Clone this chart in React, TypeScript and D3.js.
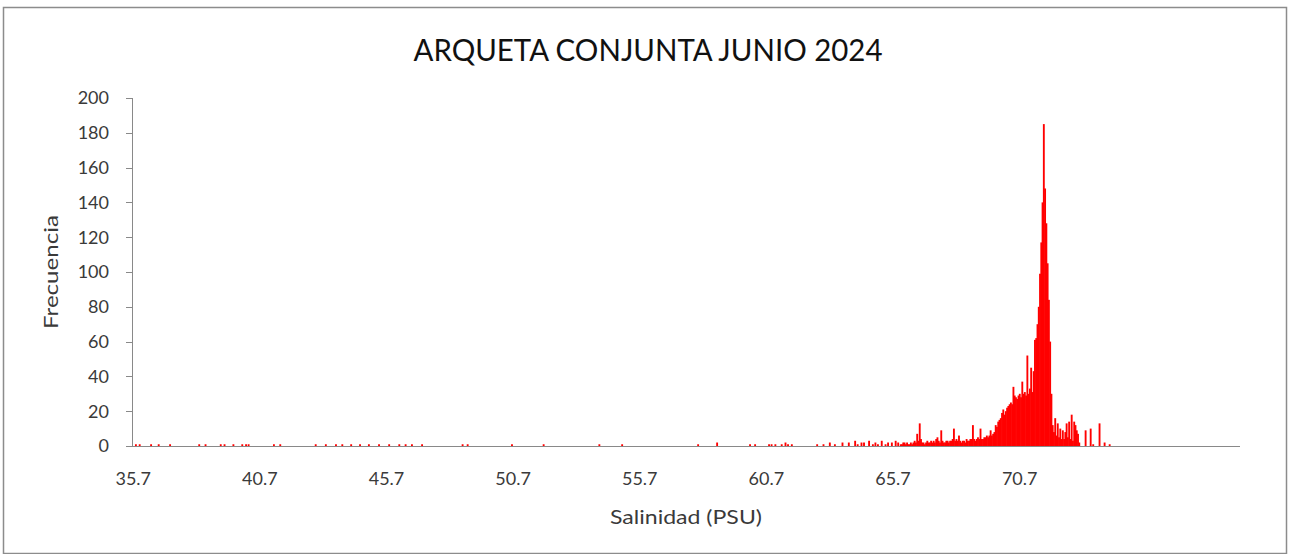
import React from "react";
import * as d3 from "d3";

// Salinity bin (PSU, bin centre, 0.05 wide) and frequency
const salinity: number[] = [
  35.8, 35.95, 36.4, 36.7, 37.15, 38.3, 38.55, 39.15, 39.3, 39.65, 40.0, 40.15, 40.25,
  41.25, 41.5, 42.9, 43.3, 43.7, 43.95, 44.3, 44.65, 45.0, 45.4, 45.8, 46.2, 46.45,
  46.7, 47.1, 48.7, 48.9, 50.65, 51.9, 54.1, 55.0, 58.0, 58.75, 60.05, 60.25, 60.8,
  60.9, 61.05, 61.3, 61.45, 61.55, 61.7, 62.7, 62.95, 63.2, 63.4, 63.7, 63.95, 64.2,
  64.3, 64.45, 64.55, 64.75, 64.9, 65.0, 65.1, 65.25, 65.4, 65.5, 65.65, 65.8, 65.9,
  66.0, 66.05, 66.1, 66.15, 66.2, 66.25, 66.3, 66.35, 66.4, 66.45, 66.5, 66.55, 66.6,
  66.65, 66.7, 66.75, 66.8, 66.85, 66.9, 66.95, 67.0, 67.05, 67.1, 67.15, 67.2, 67.25,
  67.3, 67.35, 67.4, 67.45, 67.5, 67.55, 67.6, 67.65, 67.7, 67.75, 67.8, 67.85, 67.9,
  67.95, 68.0, 68.05, 68.1, 68.15, 68.2, 68.25, 68.3, 68.35, 68.4, 68.45, 68.5, 68.55,
  68.6, 68.65, 68.7, 68.75, 68.8, 68.85, 68.9, 68.95, 69.0, 69.05, 69.1, 69.15, 69.2,
  69.25, 69.3, 69.35, 69.4, 69.45, 69.5, 69.55, 69.6, 69.65, 69.7, 69.75, 69.8, 69.85,
  69.9, 69.95, 70.0, 70.05, 70.1, 70.15, 70.2, 70.25, 70.3, 70.35, 70.4, 70.45, 70.5,
  70.55, 70.6, 70.65, 70.7, 70.75, 70.8, 70.85, 70.9, 70.95, 71.0, 71.05, 71.1, 71.15,
  71.2, 71.25, 71.3, 71.35, 71.4, 71.45, 71.5, 71.55, 71.6, 71.65, 71.7, 71.75, 71.8,
  71.85, 71.9, 71.95, 72.0, 72.05, 72.1, 72.15, 72.2, 72.25, 72.3, 72.35, 72.4, 72.45,
  72.5, 72.55, 72.6, 72.65, 72.7, 72.75, 72.8, 72.85, 72.9, 72.95, 73.0, 73.05, 73.3,
  73.5, 73.6, 73.85, 74.05, 74.25,
];
const frecuencia: number[] = [
  1, 1, 1, 1, 1, 1, 1, 1, 1, 1, 1, 1, 1,
  1, 1, 1, 1, 1, 1, 1, 1, 1, 1, 1, 1, 1,
  1, 1, 1, 1, 1, 1, 1, 1, 1, 2, 1, 1, 1,
  1, 1, 1, 2, 1, 1, 1, 1, 2, 1, 2, 2, 3,
  1, 2, 2, 3, 1, 2, 1, 3, 1, 2, 2, 3, 2,
  1, 1, 2, 2, 1, 2, 1, 1, 2, 1, 2, 3, 2,
  7, 3, 13, 4, 2, 2, 1, 2, 3, 2, 2, 3, 2,
  3, 2, 4, 5, 3, 2, 9, 3, 2, 2, 3, 3, 2,
  3, 3, 4, 10, 3, 4, 3, 6, 3, 2, 3, 3, 2,
  4, 3, 3, 4, 4, 12, 4, 3, 4, 5, 4, 10, 4,
  4, 5, 5, 6, 5, 6, 9, 6, 7, 8, 12, 11, 14,
  15, 16, 19, 21, 18, 20, 22, 23, 24, 25, 24, 34, 29,
  28, 27, 29, 30, 28, 37, 30, 31, 29, 52, 30, 33, 45,
  31, 43, 61, 62, 70, 80, 99, 117, 140, 185, 148, 128, 105,
  84, 60, 30, 12, 8, 16, 6, 13, 5, 10, 4, 9, 4,
  8, 13, 5, 14, 4, 18, 3, 14, 12, 9, 7, 2, 9,
  10, 1, 13, 2, 1,
];
const binWidth = 0.05;
const xTickLabels: number[] = [35.7, 40.7, 45.7, 50.7, 55.7, 60.7, 65.7, 70.7];
const yTicks: number[] = [0, 20, 40, 60, 80, 100, 120, 140, 160, 180, 200];

const W = 1290;
const H = 554;
const M = { left: 132, right: 1240, top: 98, bottom: 446 };
const FONT = "Lato, 'Open Sans', sans-serif";

export default function App() {
  const x = d3.scaleLinear().domain([35.65, 79.4]).range([M.left, M.right]);
  const y = d3.scaleLinear().domain([0, 200]).range([M.bottom, M.top]);
  const data = salinity.map((s, i) => ({ s, f: frecuencia[i] }));
  const axisColor = "#898989";
  const textColor = "#3a3a3a";
  return (
    <svg
      width={W}
      height={H}
      style={{ position: "fixed", left: 0, top: 0, background: "#fff" }}
    >
      <rect x={0} y={0} width={W} height={H} fill="#fff" />
      <rect x={3.5} y={7.5} width={1283} height={546} fill="none" stroke="#8c8c8c" strokeWidth={1.5} />
      <text
        x={648}
        y={61}
        textAnchor="middle"
        fontFamily={FONT}
        fontSize={30}
        textLength={469}
        lengthAdjust="spacingAndGlyphs"
        fill="#111"
      >
        ARQUETA CONJUNTA JUNIO 2024
      </text>
      {/* bars */}
      <g>
        {data.map((d, i) => {
          const x0 = x(d.s - binWidth / 2);
          const x1 = x(d.s + binWidth / 2);
          return (
            <rect
              key={i}
              x={x0 - 0.2}
              y={y(d.f)}
              width={Math.max(1, x1 - x0 + 0.6)}
              height={M.bottom - y(d.f)}
              fill="#ff0000"
            />
          );
        })}
      </g>
      {/* y axis */}
      <line x1={M.left + 0.5} x2={M.left + 0.5} y1={M.top} y2={M.bottom} stroke={axisColor} />
      {yTicks.map((t) => (
        <g key={t}>
          <line x1={M.left - 6} x2={M.left} y1={Math.round(y(t)) + 0.5} y2={Math.round(y(t)) + 0.5} stroke={axisColor} />
          <text
            x={109}
            y={y(t)}
            dy="0.36em"
            textAnchor="end"
            fontFamily={FONT}
            fontSize={18}
            fill={textColor}
          >
            {t}
          </text>
        </g>
      ))}
      {/* x axis */}
      <line x1={M.left} x2={M.right} y1={M.bottom + 0.5} y2={M.bottom + 0.5} stroke={axisColor} />
      {xTickLabels.map((t) => (
        <text
          key={t}
          x={x(t)}
          y={485}
          textAnchor="middle"
          fontFamily={FONT}
          fontSize={18}
          fill={textColor}
        >
          {t.toFixed(1)}
        </text>
      ))}
      <text
        x={686}
        y={524}
        textAnchor="middle"
        fontFamily={FONT}
        fontSize={19}
        textLength={152}
        lengthAdjust="spacingAndGlyphs"
        fill={textColor}
      >
        Salinidad (PSU)
      </text>
      <text
        transform={`translate(58,272) rotate(-90)`}
        textAnchor="middle"
        fontFamily={FONT}
        fontSize={19}
        textLength={114}
        lengthAdjust="spacingAndGlyphs"
        fill={textColor}
      >
        Frecuencia
      </text>
    </svg>
  );
}
